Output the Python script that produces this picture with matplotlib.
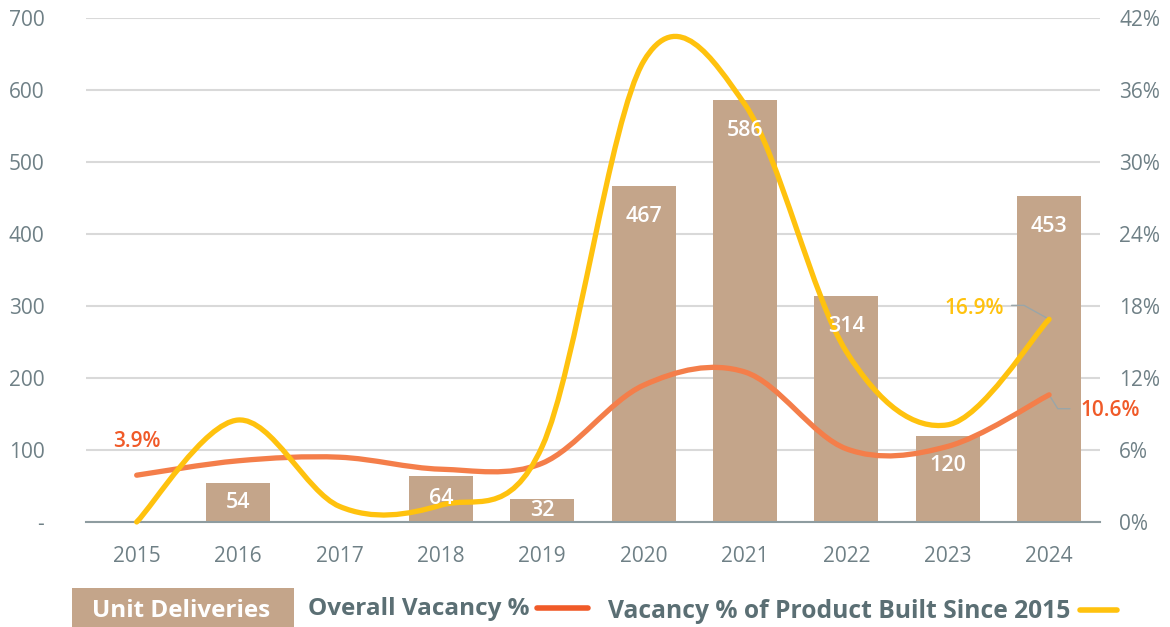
import numpy as np
import matplotlib.pyplot as plt
from matplotlib.path import Path
from matplotlib.patches import PathPatch, Rectangle
from matplotlib.lines import Line2D

plt.rcParams['font.family'] = ['Open Sans', 'DejaVu Sans']

years = ['2015', '2016', '2017', '2018', '2019', '2020', '2021', '2022', '2023', '2024']
deliveries = [0, 54, 0, 64, 32, 467, 586, 314, 120, 453]
overall_vac = [3.9, 5.1, 5.4, 4.4, 4.9, 11.4, 12.5, 6.1, 6.3, 10.6]
new_vac = [0.0, 8.5, 1.3, 1.4, 6.3, 38.4, 34.8, 14.2, 8.1, 16.9]

TAN = '#C4A58A'
ORANGE = '#F47E4A'
ORANGE_TXT = '#F05A28'
YELLOW = '#FFC20E'
GRAY_TXT = '#6F8086'
LEG_TXT = '#5B6F74'
LEADER = '#9AA5A8'


def smooth_path(xs, ys):
    # excel style smoothed line as cubic bezier segments
    pts = np.column_stack([xs, ys]).astype(float)
    n = len(pts)
    verts = [pts[0]]
    codes = [Path.MOVETO]
    for i in range(n - 1):
        p0 = pts[i - 1] if i > 0 else pts[i]
        p3 = pts[i + 2] if i + 2 < n else pts[i + 1]
        c1 = pts[i] + (pts[i + 1] - p0) / 6
        c2 = pts[i + 1] - (p3 - pts[i]) / 6
        verts += [c1, c2, pts[i + 1]]
        codes += [Path.CURVE4] * 3
    return Path(verts, codes)


fig = plt.figure(figsize=(11.7, 6.27), dpi=100)
ax = fig.add_axes([0.0735, 0.1675, 0.8665, 0.8035])
ax2 = ax.twinx()

x = np.arange(len(years))
nz = [i for i, v in enumerate(deliveries) if v > 0]
ax.bar([x[i] for i in nz], [deliveries[i] for i in nz], width=0.63, color=TAN, zorder=2)

ax.set_xlim(-0.5, len(years) - 0.5)
ax.set_ylim(0, 700)
ax.set_yticks(range(0, 701, 100))
ax.set_yticklabels(['-'] + [str(v) for v in range(100, 701, 100)])
ax.set_xticks(x)
ax.set_xticklabels(years)
ax.grid(axis='y', color='#D9D9D9', lw=1.5, zorder=0)
ax.set_axisbelow(True)
for s in ['top', 'right', 'left']:
    ax.spines[s].set_visible(False)
ax.spines['bottom'].set_color('#8E9CA0')
ax.spines['bottom'].set_linewidth(1.5)
ax.tick_params(axis='both', length=0, labelsize=15, labelcolor=GRAY_TXT)
ax.tick_params(axis='y', pad=30)
ax.tick_params(axis='x', pad=17)

ax2.set_ylim(0, 42)
ax2.set_yticks(range(0, 43, 6))
ax2.set_yticklabels([f'{v}%' for v in range(0, 43, 6)])
for s in ax2.spines.values():
    s.set_visible(False)
ax2.tick_params(axis='y', length=0, labelsize=15, labelcolor=GRAY_TXT, pad=14)

ax2.add_patch(PathPatch(smooth_path(x, overall_vac), facecolor='none', edgecolor=ORANGE,
                        lw=3.8, capstyle='round', zorder=4, clip_on=False))
ax2.add_patch(PathPatch(smooth_path(x, new_vac), facecolor='none', edgecolor=YELLOW,
                        lw=3.8, capstyle='round', zorder=5, clip_on=False))

# bar labels (on top of lines)
for i in nz:
    v = deliveries[i]
    ly = max(v - 42, v / 2)
    ax2.text(x[i], ly, str(v), transform=ax.transData, ha='center', va='center',
             color='white', fontsize=15.5, fontweight='semibold', zorder=6)

# value labels
ax2.annotate(f'{overall_vac[0]}%', (x[0], overall_vac[0]), xytext=(0, 24),
             textcoords='offset points', ha='center', va='center',
             color=ORANGE_TXT, fontsize=15, fontweight='semibold')

ax2.annotate('', (x[-1], overall_vac[-1]), xytext=(15, -10), textcoords='offset points',
             arrowprops=dict(arrowstyle='-', color=LEADER, lw=1, shrinkA=0, shrinkB=0,
                             connectionstyle='angle,angleA=0,angleB=-58,rad=0'),
             annotation_clip=False)
ax2.annotate(f'{overall_vac[-1]}%', (x[-1], overall_vac[-1]), xytext=(44, -11),
             textcoords='offset points', ha='center', va='center',
             color=ORANGE_TXT, fontsize=15, fontweight='semibold', annotation_clip=False)

ax2.annotate('', (x[-1], new_vac[-1]), xytext=(-27, 10), textcoords='offset points',
             arrowprops=dict(arrowstyle='-', color=LEADER, lw=1, shrinkA=0, shrinkB=0,
                             connectionstyle='angle,angleA=0,angleB=151,rad=0'))
ax2.annotate(f'{new_vac[-1]}%', (x[-1], new_vac[-1]), xytext=(-54, 8),
             textcoords='offset points', ha='center', va='center',
             color=YELLOW, fontsize=15, fontweight='semibold')

# legend row
fig.add_artist(Rectangle((72 / 1170, 0), 222 / 1170, 39 / 627, transform=fig.transFigure,
                         facecolor=TAN, edgecolor='none'))
fig.text(181 / 1170, 16 / 627, 'Unit Deliveries', ha='center', va='center',
         color='white', fontsize=17.5, fontweight='bold')
fig.text(308 / 1170, 18 / 627, 'Overall Vacancy %', ha='left', va='center',
         color=LEG_TXT, fontsize=17.5, fontweight='bold')
fig.add_artist(Line2D([537 / 1170, 588 / 1170], [19 / 627, 19 / 627], transform=fig.transFigure,
                      color=ORANGE_TXT, lw=4, solid_capstyle='round'))
fig.text(608 / 1170, 16 / 627, 'Vacancy % of Product Built Since 2015', ha='left', va='center',
         color=LEG_TXT, fontsize=17.7, fontweight='bold')
fig.add_artist(Line2D([1080 / 1170, 1117 / 1170], [17 / 627, 17 / 627], transform=fig.transFigure,
                      color=YELLOW, lw=4, solid_capstyle='round'))

fig.savefig('out.png', dpi=100)
